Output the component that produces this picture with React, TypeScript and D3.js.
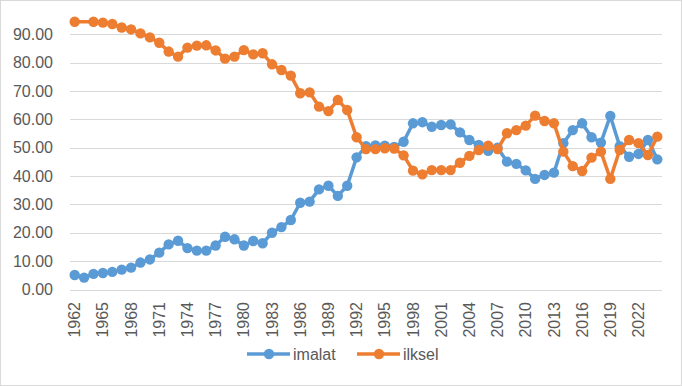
import * as d3 from 'd3';

// categories: one per year, 1962..2024
const years: number[] = d3.range(1962, 2025);

// share of exports (%)
const imalat: (number | null)[] = [
  5.1, 4.2, 5.5, 5.8, 6.2, 7.0, 7.7, 9.5, 10.6, 13.0,
  15.9, 17.2, 14.6, 13.7, 13.7, 15.5, 18.6, 17.7, 15.5, 17.1,
  16.3, 20.0, 22.0, 24.5, 30.6, 31.0, 35.3, 36.6, 33.0, 36.6,
  46.6, 50.5, 50.8, 50.7, 50.3, 52.1, 58.6, 59.0, 57.4, 58.0,
  58.2, 55.4, 52.7, 51.0, 48.9, 50.0, 45.1, 44.3, 42.0, 39.0,
  40.4, 41.2, 51.6, 56.2, 58.6, 53.7, 51.8, 61.2, 50.5, 46.8,
  47.8, 52.7, 45.9,
];

const ilksel: (number | null)[] = [
  94.4, null, 94.4, 94.1, 93.6, 92.4, 91.7, 90.3, 88.9, 87.0,
  83.9, 82.1, 85.3, 86.0, 86.1, 84.3, 81.4, 82.1, 84.4, 82.9,
  83.3, 79.4, 77.4, 75.4, 69.2, 69.5, 64.5, 62.9, 66.8, 63.3,
  53.7, 49.5, 49.5, 49.8, 49.7, 47.3, 41.9, 40.6, 42.1, 42.1,
  42.1, 44.7, 47.1, 49.2, 50.7, 49.5, 55.1, 56.2, 57.8, 61.3,
  59.4, 58.6, 48.6, 43.5, 41.8, 46.5, 48.6, 39.0, 49.2, 52.7,
  51.6, 47.4, 53.9,
];

const yTicks = [0, 10, 20, 30, 40, 50, 60, 70, 80, 90];
const xLabelYears = d3.range(1962, 2025, 3);

const series = [
  { name: 'imalat', values: imalat, color: '#5B9BD5' },
  { name: 'ilksel', values: ilksel, color: '#ED7D31' },
];

const W = 682;
const H = 386;
const FONT = '"Liberation Sans", Arial, sans-serif';

export default function App() {
  const x = d3.scaleBand<number>().domain(years).range([70, 662]).padding(0);
  const y = d3.scaleLinear().domain([0, 100]).range([289.5, 5.9]);
  const cx = (yr: number) => (x(yr) ?? 0) + x.bandwidth() / 2;

  const line = d3
    .line<{ yr: number; v: number | null }>()
    .defined((d) => d.v !== null)
    .x((d) => cx(d.yr))
    .y((d) => y(d.v as number));

  return (
    <div style={{ position: 'fixed', left: 0, top: 0 }}>
      <svg width={W} height={H} style={{ display: 'block', background: '#fff' }}>
        <rect x={0.5} y={0.5} width={W - 1} height={H - 1} fill="#fff" stroke="#d9d9d9" />

        {/* gridlines + y labels */}
        {yTicks.map((t) => (
          <g key={t}>
            <line x1={70} x2={662} y1={Math.round(y(t)) + 0.5} y2={Math.round(y(t)) + 0.5} stroke="#d9d9d9" strokeWidth={1} />
            <text x={53} y={y(t)} dy="0.35em" textAnchor="end" fontFamily={FONT} fontSize={16} fill="#595959">
              {t.toFixed(2)}
            </text>
          </g>
        ))}

        {/* x labels, rotated */}
        {xLabelYears.map((yr) => (
          <text
            key={yr}
            transform={`translate(${cx(yr)},302) rotate(-90)`}
            dy="0.35em"
            textAnchor="end"
            fontFamily={FONT}
            fontSize={16}
            fill="#595959"
          >
            {yr}
          </text>
        ))}

        {/* series */}
        {series.map((s) => {
          const pts = years.map((yr, i) => ({ yr, v: s.values[i] }));
          return (
            <g key={s.name}>
              <path d={line(pts.filter((p) => p.v !== null)) ?? ''} fill="none" stroke={s.color} strokeWidth={3.5} strokeLinejoin="round" />
              {pts
                .filter((p) => p.v !== null)
                .map((p) => (
                  <circle key={p.yr} cx={cx(p.yr)} cy={y(p.v as number)} r={5.2} fill={s.color} />
                ))}
            </g>
          );
        })}

        {/* legend */}
        {series.map((s, i) => {
          const lx = 247 + i * 110;
          return (
            <g key={s.name}>
              <line x1={lx} x2={lx + 43} y1={354} y2={354} stroke={s.color} strokeWidth={3.5} />
              <circle cx={lx + 22} cy={354} r={5.2} fill={s.color} />
              <text x={lx + 46} y={354} dy="0.35em" fontFamily={FONT} fontSize={16} fill="#595959">
                {s.name}
              </text>
            </g>
          );
        })}
      </svg>
    </div>
  );
}
